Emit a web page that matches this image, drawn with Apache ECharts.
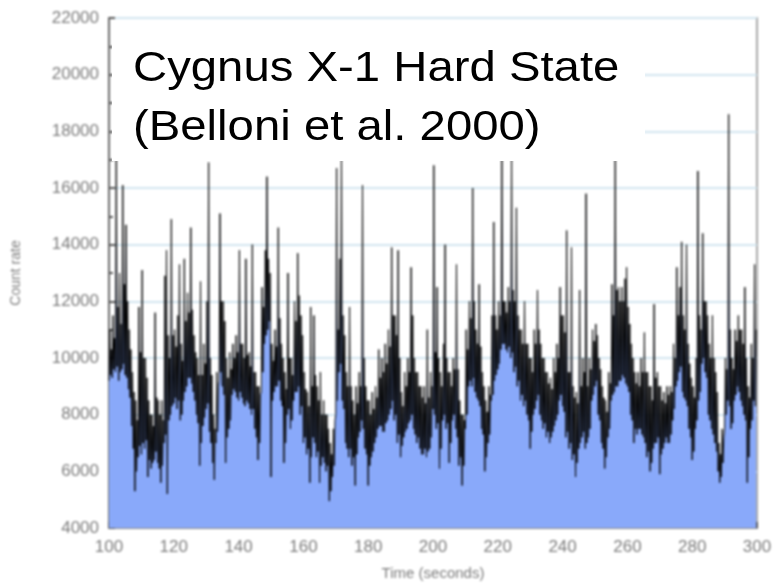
<!DOCTYPE html>
<html>
<head>
<meta charset="utf-8">
<script src="https://cdn.jsdelivr.net/npm/echarts@6/dist/echarts.min.js"></script>
<style>
html,body{margin:0;padding:0;background:#fff;}
#wrap{position:relative;width:774px;height:583px;}
#c{position:absolute;left:0;top:0;width:774px;height:583px;filter:blur(0.8px);}
#t{position:absolute;left:0;top:0;width:774px;height:583px;}
</style>
</head>
<body>
<div id="wrap"><div id="c"></div><div id="t"></div></div>
<script>
// Time axis ticks (seconds) and count-rate ticks
const xTicks = [100,120,140,160,180,200,220,240,260,280,300];
const yTicks = [4000,6000,8000,10000,12000,14000,16000,18000,20000,22000];
const tStart = 100;      // first sample time (s)
const tStep = 0.25;      // sample spacing (s)
const titleLines = ['Cygnus X-1 Hard State', '(Belloni et al. 2000)'];

// Count rate, 4 samples per second
const counts100to150 = [
9200,11000,9400,10300, 9300,11500,9600,10700, 9500,17200,9700,11800, 9200,13000,9500,11200, 9600,16100,9800,12600,
9400,14700,9300,12000, 8900,11000,8600,10300, 7600,9500,6800,8800, 5300,8500,6000,7800, 6500,11800,6900,10200,
6600,13100,7000,10000, 6800,10000,7100,9300, 5800,8500,6400,8000, 6100,8000,6300,7600, 6400,11600,6700,8600,
6300,8500,6100,8000, 5600,8500,6200,7800, 7000,12900,7300,13800, 5200,10800,7800,10000, 8000,14900,8300,10800,
8400,11000,8600,10400, 8200,11500,8500,13300, 7800,10500,8000,9900, 8500,13500,8800,11300, 9000,12300,9300,11600,
9300,14600,9100,11700, 8800,10800,8500,10200, 8000,10000,7700,9400, 6200,12700,7000,9400, 7600,10500,7900,9800,
8200,12000,8400,16900, 7400,10000,7000,9400, 6300,8000,5700,7500, 7000,9500,7400,9000, 9200,15100,9500,12000,
9000,12000,8700,11300, 6300,10000,7200,9300, 7500,10200,7800,9600, 8700,10500,8900,10000, 8800,10800,8600,10200,
8500,13800,8800,10500, 8600,10500,8400,10000, 8300,13500,8500,10100, 8400,10200,8200,9700, 8000,14000,8200,9500,
7500,9500,7200,9000, 6400,9000,7000,8700, 8800,12500,9500,11800, 10500,13800,10800,16400, 11000,13500,11300,13000
];
const counts150to200 = [
5800,10500,8500,9900, 8800,11000,9000,10400, 9000,14600,9200,11400, 8500,10500,8300,10000, 6300,9500,7000,8900,
8000,13000,8200,10000, 7500,10000,7800,9400, 8500,12000,8800,11300, 8800,13700,9000,12200, 8000,11500,8300,10800,
7000,9500,7200,8900, 6600,8800,6800,8300, 5600,11800,6500,9000, 7200,11500,7000,9400, 6500,9000,6700,8500,
5600,9500,6200,8000, 6500,8500,6300,8000, 6000,8000,6200,7500, 4950,7000,5300,6600, 5800,7500,6200,7800,
8000,16700,8500,11000, 9500,13500,9800,17200, 8500,11500,8200,10800, 7000,9500,6800,9000, 6500,11800,6800,9000,
6200,8500,6500,8000, 5500,9000,6600,8400, 7200,9500,7400,9000, 7800,16100,7500,10000, 6800,9000,6600,8500,
5500,8500,6200,8000, 6500,8800,6700,8200, 7000,9000,7200,8600, 7500,10300,7600,9300, 7600,10000,7400,9500,
7400,10500,7700,9800, 7800,11000,8000,10400, 8200,13900,8500,11500, 7800,11500,8000,10800, 7000,13800,7300,10000,
6500,8800,6900,8300, 7200,9500,7400,9000, 7500,10000,7700,9500, 7800,13200,8000,11500, 7500,10000,7300,9500,
7000,9500,7200,9000, 6800,9000,6600,8600, 6600,9000,6800,8400, 6500,11000,6700,8600, 6800,9500,7200,9000
];
const counts200to250 = [
8200,16800,8000,10200, 7500,12500,7700,10000, 6100,9500,6800,9000, 7800,10500,8000,14000, 7500,10000,7700,9500,
6300,9500,7000,9000, 7800,10000,8000,9600, 7500,13300,7200,9600, 6200,8500,6500,8000, 5500,8000,6200,7800,
7500,11000,8000,10300, 9000,12000,9200,11400, 9000,16000,9300,12000, 8800,11000,8600,10500, 8500,12600,8300,10400,
7500,9500,7300,9000, 6000,8500,6500,8100, 7000,9000,7300,8700, 8500,11500,8700,14800, 9200,11500,9400,11000,
9600,12000,9800,11500, 10300,17300,10500,12000, 10500,12000,10300,11600, 10200,12500,10400,12000, 10000,17200,10200,12400,
9500,12000,9700,15300, 9000,11500,9200,11000, 8500,11000,8700,10500, 8300,12000,8500,10500, 8000,10500,7800,10000,
6800,10000,7400,9500, 8000,11000,8200,10500, 8500,12400,8700,11000, 8000,10500,7800,10000, 7500,10000,7700,9500,
7200,9500,7400,9100, 7000,9300,7200,8900, 7400,10000,7600,9500, 7800,10500,8000,10000, 8500,12500,8700,11500,
8300,11500,8100,10900, 7200,14500,7400,9500, 6800,9500,7000,13900, 6400,9000,6600,8600, 5800,8800,6300,8400,
6800,12400,7000,9000, 7200,10000,7400,9500, 6800,15800,7000,9000, 7200,10000,7500,9600, 8500,11000,8700,10600
];
const counts250to300 = [
9000,11200,9200,10800, 8000,10000,7800,9600, 7000,9000,6800,8600, 6100,8500,6500,8100, 7200,9500,7500,9100,
8500,12600,8700,11500, 8800,17300,9000,12400, 9000,12500,9200,12000, 9200,12500,9400,12000, 9300,12800,9100,13200,
9000,11800,8800,11200, 8000,10500,7800,10000, 7000,9500,7500,9100, 7300,9500,7500,9000, 7500,10000,7300,9500,
7200,10900,7000,9500, 6500,9500,6700,9000, 6000,9000,6300,8500, 6800,11900,7000,9300, 7000,9500,7200,9000,
5900,9000,6600,8500, 6800,8800,7000,8400, 7200,9000,7000,8700, 7000,9000,7300,8800, 7800,10500,8200,10000,
9000,13200,9200,11500, 9500,12500,9700,14100, 8800,11500,8600,11000, 8500,14000,8300,10500, 7500,9800,7200,9300,
6400,9000,6700,8600, 7500,10000,7800,16600, 8500,11500,8800,11000, 9800,14400,10000,12000, 9500,12000,9300,11500,
8000,10500,7800,10000, 7500,11500,7300,10000, 7000,9500,6700,8800, 6000,7000,5600,6600, 5800,7500,6300,7200,
7500,10000,8000,9600, 8500,18600,8300,11000, 7500,10000,7700,9600, 8500,11000,8700,10600, 9000,11500,8800,11000,
8500,11000,8300,10500, 8000,12500,7800,10000, 5600,9000,6500,8600, 7500,10500,7800,10000, 8500,13300,8300,11000
];

const counts = counts100to150.concat(counts150to200, counts200to250, counts250to300);
const seriesData = counts.map((v, i) => [tStart + i * tStep, v]);

const FONT = '"Liberation Sans", Arial, Helvetica, sans-serif';
const chart = echarts.init(document.getElementById('c'), null, {renderer: 'canvas'});
chart.setOption({
  animation: false,
  backgroundColor: '#fff',
  grid: {left: 109, right: 17, top: 18, bottom: 55, show: true, containLabel: false, outerBoundsMode: 'none',
    borderColor: '#a8a8a8', borderWidth: 2, backgroundColor: 'transparent'},
  xAxis: {
    type: 'value', min: xTicks[0], max: xTicks[xTicks.length - 1], interval: 20,
    axisLine: {show: true, lineStyle: {color: '#8a8a8a', width: 2}},
    axisTick: {show: true, inside: true, length: 6, lineStyle: {color: '#555', width: 2}},
    minorTick: {show: true, splitNumber: 2, length: 4, lineStyle: {color: '#555', width: 2}},
    splitLine: {show: false},
    axisLabel: {color: '#7c7c7c', fontSize: 17, margin: 11, fontFamily: FONT, formatter: v => String(v)},
    name: 'Time (seconds)', nameLocation: 'middle', nameGap: 38,
    nameTextStyle: {color: '#7c7c7c', fontSize: 15, fontFamily: FONT}
  },
  yAxis: {
    type: 'value', min: yTicks[0], max: yTicks[yTicks.length - 1], interval: 2000,
    axisLine: {show: true, lineStyle: {color: '#6a6a6a', width: 2}},
    axisTick: {show: true, inside: true, length: 6, lineStyle: {color: '#555', width: 2}},
    minorTick: {show: true, splitNumber: 2, length: 4, lineStyle: {color: '#555', width: 2}},
    splitLine: {show: true, lineStyle: {color: '#d2e5ef', width: 2}},
    axisLabel: {color: '#7c7c7c', fontSize: 17, margin: 10, fontFamily: FONT, formatter: v => String(v)},
    name: 'Count rate', nameLocation: 'middle', nameGap: 86,
    nameTextStyle: {color: '#7c7c7c', fontSize: 14, fontFamily: FONT}
  },
  series: [{
    type: 'line',
    data: seriesData,
    showSymbol: false,
    symbol: 'none',
    sampling: false,
    clip: true,
    lineStyle: {color: '#000', width: 1},
    areaStyle: {color: '#89a9fa', opacity: 1, origin: 'start'},
    z: 2
  }]
});

// Crisp annotation box drawn on top (not blurred)
const overlay = echarts.init(document.getElementById('t'), null, {renderer: 'canvas'});
overlay.setOption({
  animation: false,
  backgroundColor: 'transparent',
  graphic: [
    {type: 'rect', z: 100, shape: {x: 112, y: 21, width: 533, height: 140}, style: {fill: '#ffffff'}},
    {type: 'text', z: 101, x: 133, y: 69, scaleX: 1.1,
      style: {text: titleLines[0], font: '43px ' + FONT, fill: '#000', verticalAlign: 'middle', align: 'left'}},
    {type: 'text', z: 101, x: 133, y: 128, scaleX: 1.1,
      style: {text: titleLines[1], font: '43px ' + FONT, fill: '#000', verticalAlign: 'middle', align: 'left'}}
  ]
});
</script>
</body>
</html>
